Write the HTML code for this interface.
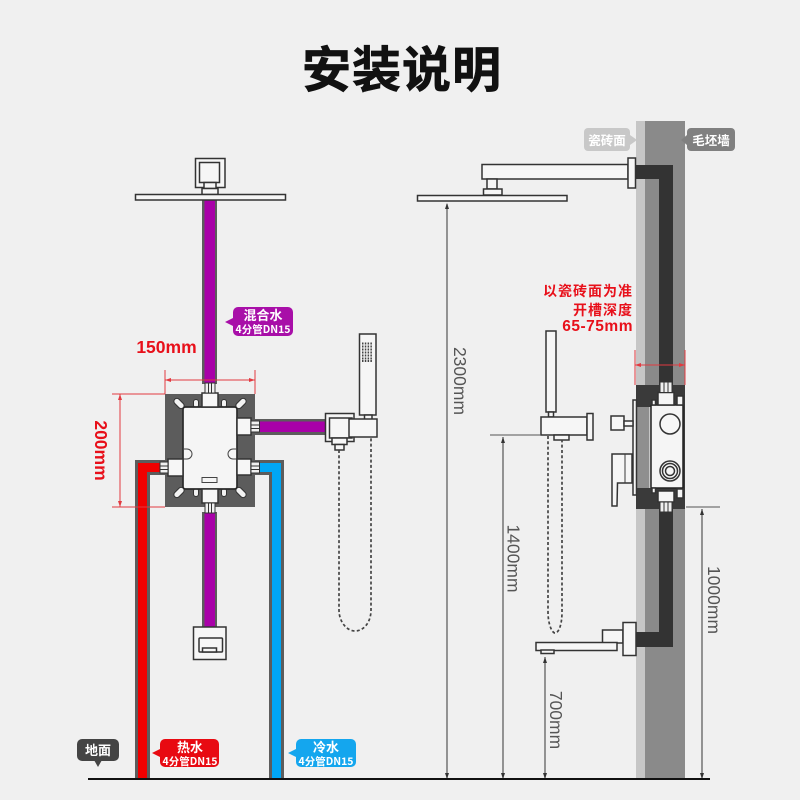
<!DOCTYPE html>
<html><head><meta charset="utf-8"><style>
html,body{margin:0;padding:0;background:#f0f0f0}
svg{display:block}
text{font-family:"Liberation Sans","Noto Sans CJK SC",sans-serif}
.cjk{font-family:"Noto Sans CJK SC",sans-serif;font-weight:700}
.w{fill:#f6f6f6;stroke:#333;stroke-width:1.5}
.rd{stroke:#e23a40;stroke-width:1;fill:none}
.gl{stroke:#555;stroke-width:1.2;fill:none}
.dim{fill:#555;font-size:17.500px}
.red{fill:#e8101a;font-weight:700}
.lab{fill:#fff;text-anchor:middle;font-family:"Noto Sans CJK SC",sans-serif;font-weight:700}
.hose{fill:none;stroke:#444;stroke-width:1.700;stroke-dasharray:3 2.300}
</style></head><body>
<svg width="800" height="800" viewBox="0 0 800 800" xmlns="http://www.w3.org/2000/svg">
<rect width="800" height="800" fill="#f0f0f0"/>
<text x="402" y="87" text-anchor="middle" class="cjk" font-size="49" letter-spacing="1" fill="#111" stroke="#111" stroke-width=".7">安装说明</text>

<!-- LEFT: pipes -->
<rect x="165" y="394" width="90" height="113" fill="#5c5c5c"/>
<path d="M135 780V460H165V475H150V780Z" fill="#5c5c5c"/>
<path d="M284 780V460H255V475H269V780Z" fill="#5c5c5c"/>
<path d="M138 779V463H165V472H147V779Z" fill="#f00000"/>
<path d="M281 779V463H255V472H272V779Z" fill="#00a6f5"/>
<rect x="202" y="200" width="15" height="184" fill="#5c5c5c"/>
<rect x="204.500" y="200" width="10.500" height="184" fill="#a800a8"/>
<rect x="202" y="512" width="15" height="115" fill="#5c5c5c"/>
<rect x="204.500" y="512" width="10.500" height="115" fill="#a800a8"/>
<rect x="255" y="419" width="71" height="16" fill="#5c5c5c"/>
<rect x="259" y="421.500" width="67" height="10.500" fill="#a800a8"/>

<!-- top shower -->
<rect x="195.500" y="158.500" width="29.500" height="29" class="w"/>
<rect x="199.500" y="162.500" width="20" height="20" class="w"/>
<rect x="204" y="182.500" width="12" height="6" class="w"/>
<rect x="202" y="188.500" width="16" height="6" class="w"/>
<rect x="135.500" y="194.500" width="150" height="5.500" class="w"/>

<!-- valve ears -->
<g fill="#f2f2f2" stroke="#333" stroke-width="1">
<rect x="173" y="400.500" width="12" height="6" rx="3" transform="rotate(45 179 403.500)"/>
<rect x="235" y="400.500" width="12" height="6" rx="3" transform="rotate(-45 241 403.500)"/>
<rect x="173" y="489.500" width="12" height="6" rx="3" transform="rotate(-45 179 492.500)"/>
<rect x="235" y="489.500" width="12" height="6" rx="3" transform="rotate(45 241 492.500)"/>
<rect x="193.500" y="399.500" width="5" height="8" rx="2.500"/>
<rect x="221.500" y="399.500" width="5" height="8" rx="2.500"/>
<rect x="193.500" y="488.500" width="5" height="8" rx="2.500"/>
<rect x="221.500" y="488.500" width="5" height="8" rx="2.500"/>
</g>
<!-- valve body -->
<rect x="183" y="407" width="54" height="82" rx="2.500" fill="#f5f5f5" stroke="#2a2a2a" stroke-width="1.700"/>
<path d="M183 449h4a5 5 0 0 1 0 10h-4M237 449h-4a5 5 0 0 0 0 10h4" fill="none" stroke="#444" stroke-width="1"/>
<rect x="202" y="477.500" width="15" height="5" fill="none" stroke="#444" stroke-width="1"/>
<!-- connectors -->
<g>
<rect x="202" y="393" width="16" height="14" class="w"/>
<rect x="205" y="383" width="10" height="10" fill="#f0f0f0" stroke="#333"/>
<path d="M208.500 383v10M211.500 383v10" stroke="#333"/>
<rect x="202" y="489" width="16" height="14" class="w"/>
<rect x="205" y="503" width="10" height="10" fill="#f0f0f0" stroke="#333"/>
<path d="M208.500 503v10M211.500 503v10" stroke="#333"/>
<rect x="168" y="459" width="15" height="17" class="w"/>
<rect x="160" y="462" width="8" height="11" fill="#f0f0f0" stroke="#333"/>
<path d="M160 466h8M160 469.500h8" stroke="#333"/>
<rect x="237" y="459" width="14" height="16" class="w"/>
<rect x="251" y="462" width="8.500" height="11" fill="#f0f0f0" stroke="#333"/>
<path d="M251 466h8.500M251 469.500h8.500" stroke="#333"/>
<rect x="237" y="418" width="14" height="17" class="w"/>
<rect x="251" y="421" width="8.500" height="11" fill="#f0f0f0" stroke="#333"/>
<path d="M251 425h8.500M251 428.500h8.500" stroke="#333"/>
</g>

<!-- red dims left -->
<path d="M165 370V394M255 370V394M165 380H255M112 394H165M112 507H165M120 394V507" class="rd"/>
<path d="M165 380l6-2v4zM255 380l-6-2v4zM120 394l-2 6h4zM120 507l-2-6h4z" fill="#e23a40"/>
<text x="166.500" y="353" text-anchor="middle" class="red" font-size="17.500">150mm</text>
<text transform="translate(95,450.500) rotate(90)" text-anchor="middle" class="red" font-size="17.500">200mm</text>

<!-- bottom plate -->
<rect x="193.500" y="627" width="32.500" height="32.500" class="w"/>
<rect x="199" y="638" width="23.500" height="14" rx="1" class="w"/>
<rect x="202.500" y="648" width="14" height="4" class="w"/>

<!-- hand shower left -->
<rect x="359.500" y="334" width="16.500" height="81" class="w"/>
<g fill="none" stroke="#444" stroke-width="2" stroke-dasharray="1.500 1.300">
<path d="M362 343.500h11M362 346.500h11M362 349.500h11M362 352.500h11M362 355.500h11M362 358.500h11M362 361h11"/>
</g>
<rect x="364.500" y="415" width="7.500" height="4.500" class="w"/>
<rect x="325.500" y="413.500" width="28.500" height="28" class="w"/>
<rect x="329.500" y="418" width="22.500" height="20" class="w"/>
<rect x="349" y="419" width="28" height="18" class="w"/>
<rect x="332" y="438" width="15" height="6.500" class="w"/>
<rect x="335" y="444.500" width="9" height="5.500" class="w"/>
<path d="M339 450V610C339 622 347 631 355 631C364 631 371 622 371 610V437" class="hose"/>

<!-- labels left -->
<path d="M225 322l8-4v8z" fill="#a80fa8"/>
<rect x="233" y="307" width="60" height="29" rx="5" fill="#a80fa8"/>
<text x="263" y="320" class="lab" font-size="13">混合水</text>
<text x="263" y="333" class="lab" font-size="10.500">4分管DN15</text>
<path d="M152 753l8-4v8z" fill="#e80a12"/>
<rect x="160" y="739" width="59" height="28" rx="5" fill="#e80a12"/>
<text x="190" y="752" class="lab" font-size="13">热水</text>
<text x="190" y="765" class="lab" font-size="10.500">4分管DN15</text>
<path d="M288 753l8-4v8z" fill="#14a6ee"/>
<rect x="296" y="739" width="60" height="28" rx="5" fill="#14a6ee"/>
<text x="326" y="752" class="lab" font-size="13">冷水</text>
<text x="326" y="765" class="lab" font-size="10.500">4分管DN15</text>
<path d="M94 760h8l-4 7z" fill="#444"/>
<rect x="77" y="739" width="42" height="22" rx="5" fill="#444"/>
<text x="98" y="755" class="lab" font-size="13">地面</text>

<!-- RIGHT: wall -->
<rect x="636" y="121" width="9" height="658" fill="#c6c6c6"/>
<rect x="645" y="121" width="40" height="658" fill="#8a8a8a"/>
<path d="M636 165H673V385H659V179H636Z" fill="#333"/>
<path d="M659 509H673V647H636V632H659Z" fill="#333"/>
<rect x="636" y="385" width="49" height="124" fill="#3a3a3a"/>
<rect x="636" y="407" width="13" height="81" fill="#8f8f8f"/>
<rect x="649" y="407" width="3" height="81" fill="#c6c6c6"/>

<rect x="584" y="128" width="46" height="23" rx="4" fill="#c8c8c8"/>
<path d="M630 135l7 5-7 5z" fill="#c8c8c8"/>
<text x="607" y="145" class="lab" font-size="12.500">瓷砖面</text>
<rect x="687" y="128" width="48" height="23" rx="4" fill="#808080"/>
<path d="M687 135l-6 5 6 5z" fill="#808080"/>
<text x="711" y="145" class="lab" font-size="12.500">毛坯墙</text>

<!-- top shower right -->
<rect x="482" y="164.500" width="146" height="14.500" class="w"/>
<rect x="487" y="179" width="10" height="10" class="w"/>
<rect x="483.500" y="189" width="18.500" height="6" class="w"/>
<rect x="417.500" y="195.500" width="149.500" height="5.500" class="w"/>
<rect x="628" y="158" width="7.500" height="30" class="w"/>

<!-- box side -->
<rect x="651" y="405" width="32" height="83" rx="1" fill="#f5f5f5" stroke="#222" stroke-width="1.500"/>
<rect x="633" y="400" width="3.500" height="95" class="w"/>
<rect x="677" y="396" width="6" height="9" class="w"/>
<rect x="677" y="489" width="6" height="9" class="w"/>
<rect x="652" y="400" width="3.500" height="5" class="w"/>
<rect x="652" y="488" width="3.500" height="5" class="w"/>
<rect x="658" y="392.500" width="16" height="12.500" class="w"/>
<rect x="660" y="382" width="12" height="10.500" fill="#f0f0f0" stroke="#333"/>
<path d="M664 382v10.500M668 382v10.500" stroke="#333"/>
<rect x="658" y="491" width="16" height="11" class="w"/>
<rect x="660" y="502" width="12" height="10" fill="#f0f0f0" stroke="#333"/>
<path d="M664 502v10M668 502v10" stroke="#333"/>
<circle cx="670" cy="424" r="10" class="w"/>
<circle cx="670" cy="471" r="10" class="w"/>
<circle cx="670" cy="471" r="7.500" class="w"/>
<circle cx="670" cy="471" r="4.500" class="w"/>

<!-- knob and handle -->
<rect x="611" y="416" width="13" height="14" class="w"/>
<rect x="624" y="421" width="9" height="5" class="w"/>
<path d="M612 454H632V483H617.500L617 506H612Z" class="w"/>
<path d="M625 454V483" stroke="#3a3a3a" fill="none"/>

<!-- red dim right -->
<path d="M635 350V385M685 350V385M635 365H685" class="rd"/>
<path d="M635 365l6-2v4zM685 365l-6-2v4z" fill="#e23a40"/>
<g text-anchor="end">
<text x="633" y="296" class="cjk" font-size="14" letter-spacing="1" style="fill:#e8101a">以瓷砖面为准</text>
<text x="633" y="315" class="cjk" font-size="14" letter-spacing="1" style="fill:#e8101a">开槽深度</text>
<text x="633" y="331" class="red" font-size="15.500" letter-spacing=".5">65-75mm</text>
</g>

<!-- hand shower right -->
<rect x="546" y="331" width="10" height="81" class="w"/>
<rect x="548.500" y="412" width="5" height="5" class="w"/>
<rect x="541" y="417" width="46" height="18" class="w"/>
<rect x="587" y="413.500" width="6" height="26.500" class="w"/>
<rect x="554" y="435" width="15" height="5" class="w"/>
<path d="M548 436V612C548 624 552 633 555 633C559 633 562 624 562 612V440" class="hose"/>

<!-- spout -->
<rect x="602.500" y="630" width="20.500" height="13" class="w"/>
<rect x="536" y="642.500" width="81" height="8" class="w"/>
<rect x="541" y="650" width="13" height="3.500" class="w"/>
<rect x="623" y="622.500" width="13" height="33" class="w"/>

<!-- gray dims -->
<path d="M447 204V779M503 437V779M545 657V779M702 509V779" class="gl"/>
<path d="M490 435H541M686 507H720" stroke="#555" stroke-width="1" fill="none"/>
<path d="M447 203l-2 6h4zM447 779l-2-6h4zM503 437l-2 6h4zM503 779l-2-6h4zM545 657l-2 6h4zM545 779l-2-6h4zM702 509l-2 6h4zM702 779l-2-6h4z" fill="#333"/>
<text transform="translate(454,381) rotate(90)" text-anchor="middle" class="dim">2300mm</text>
<text transform="translate(507.500,558.500) rotate(90)" text-anchor="middle" class="dim">1400mm</text>
<text transform="translate(550,720) rotate(90)" text-anchor="middle" class="dim">700mm</text>
<text transform="translate(708,600) rotate(90)" text-anchor="middle" class="dim">1000mm</text>

<!-- ground -->
<rect x="88" y="778" width="622" height="2" fill="#111"/>
</svg>
</body></html>
